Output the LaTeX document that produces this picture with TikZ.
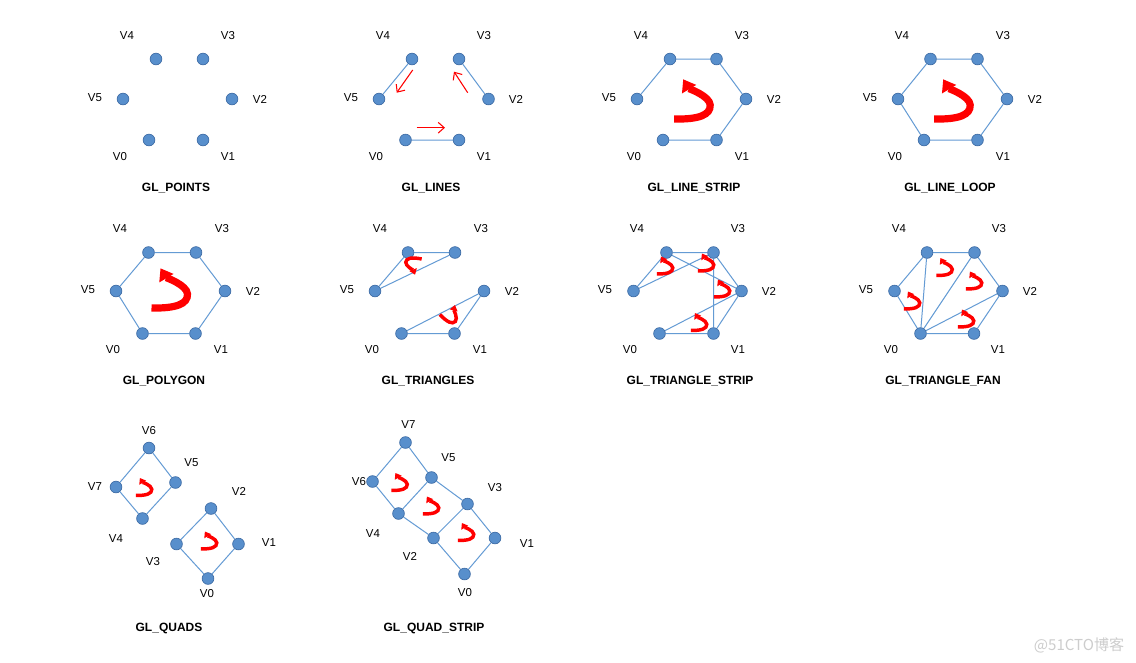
\documentclass[tikz,border=0pt]{standalone}
\usepackage{fontspec}
\setmainfont{Liberation Sans}
\newfontfamily\cjkfont{Noto Sans CJK SC}
\usetikzlibrary{arrows.meta,backgrounds}
\definecolor{dotfill}{RGB}{88,143,204}
\definecolor{dotdraw}{RGB}{62,108,165}
\definecolor{edgeblue}{RGB}{100,155,212}
\definecolor{markgray}{RGB}{205,205,205}
\tikzset{
  vtx/.style={circle, fill=dotfill, draw=dotdraw, line width=0.5pt, minimum size=8.8pt, inner sep=0pt},
  lbl/.style={font=\fontsize{8.6}{10}\selectfont, inner sep=0pt},
  ttl/.style={font=\bfseries\fontsize{9}{11}\selectfont, inner sep=0pt},
  edge/.style={draw=edgeblue, line width=0.75pt},
  thinred/.style={draw=red, line width=0.8pt, -{Straight Barb[length=4.5pt,width=8pt]}},
  pics/curl/.style={code={
    \draw[red, line width=#1, -{Triangle[length=0pt 1.6 0, width=0pt 2.2 0]}]
      (-19.5,18) .. controls (5,18.5) and (17,14) .. (16.5,4)
      .. controls (16,-5) and (-5,-12.5) .. (-10.5,-21.7);}},
}
\begin{document}
\begin{tikzpicture}[x=0.75pt,y=-0.75pt]
\begin{pgfonlayer}{background}
\fill[white] (0,0) rectangle (1136,662);
\end{pgfonlayer}
\useasboundingbox (0,0) rectangle (1136,662);

% ---------- Panel 1: GL_POINTS
\node[vtx] (a0) at (149,140) {};
\node[vtx] (a1) at (203,140) {};
\node[vtx] (a2) at (232,99) {};
\node[vtx] (a3) at (203,59) {};
\node[vtx] (a4) at (156,59) {};
\node[vtx] (a5) at (123,99) {};
\node[lbl] (la0) at (120,157) {V0};
\node[lbl] (la1) at (228,157) {V1};
\node[lbl] (la2) at (260,99) {V2};
\node[lbl] (la3) at (228,36) {V3};
\node[lbl] (la4) at (127,36) {V4};
\node[lbl] (la5) at (95,98) {V5};
\node[ttl] (ta) at (176,188) {GL\_POINTS};

% ---------- Panel 2: GL_LINES
\node[vtx] (b0) at (405.5,140) {};
\node[vtx] (b1) at (459,140) {};
\node[vtx] (b2) at (488.5,99) {};
\node[vtx] (b3) at (459,59) {};
\node[vtx] (b4) at (412,59) {};
\node[vtx] (b5) at (379,99) {};
\node[lbl] (lb0) at (376,157) {V0};
\node[lbl] (lb1) at (484,157) {V1};
\node[lbl] (lb2) at (516,99) {V2};
\node[lbl] (lb3) at (484,36) {V3};
\node[lbl] (lb4) at (383,36) {V4};
\node[lbl] (lb5) at (351,98) {V5};
\node[ttl] (tb) at (431,188) {GL\_LINES};
\coordinate (ra1) at (412.7,70);
\coordinate (ra2) at (396.7,92.7);
\coordinate (rb1) at (467.7,92.7);
\coordinate (rb2) at (454,71.7);
\coordinate (rc1) at (416.7,127.7);
\coordinate (rc2) at (445,127.7);
\draw[thinred] (ra1) -- (ra2);
\draw[thinred] (rb1) -- (rb2);
\draw[thinred] (rc1) -- (rc2);

% ---------- Panel 3: GL_LINE_STRIP
\node[vtx] (c0) at (663,140) {};
\node[vtx] (c1) at (716.5,140) {};
\node[vtx] (c2) at (746,99) {};
\node[vtx] (c3) at (716.5,59) {};
\node[vtx] (c4) at (670,59) {};
\node[vtx] (c5) at (637,99) {};
\node[lbl] (lc0) at (634,157) {V0};
\node[lbl] (lc1) at (742,157) {V1};
\node[lbl] (lc2) at (774,99) {V2};
\node[lbl] (lc3) at (742,36) {V3};
\node[lbl] (lc4) at (641,36) {V4};
\node[lbl] (lc5) at (609,98) {V5};
\node[ttl] (tc) at (694,188) {GL\_LINE\_STRIP};

% ---------- Panel 4: GL_LINE_LOOP
\node[vtx] (d0) at (924,140) {};
\node[vtx] (d1) at (977.5,140) {};
\node[vtx] (d2) at (1007,99) {};
\node[vtx] (d3) at (977.5,59) {};
\node[vtx] (d4) at (930.5,59) {};
\node[vtx] (d5) at (898,99) {};
\node[lbl] (ld0) at (895,157) {V0};
\node[lbl] (ld1) at (1003,157) {V1};
\node[lbl] (ld2) at (1035,99) {V2};
\node[lbl] (ld3) at (1003,36) {V3};
\node[lbl] (ld4) at (902,36) {V4};
\node[lbl] (ld5) at (870,98) {V5};
\node[ttl] (td) at (950,188) {GL\_LINE\_LOOP};

% ---------- Panel 5: GL_POLYGON
\node[vtx] (e0) at (142.5,333.5) {};
\node[vtx] (e1) at (195.5,333.5) {};
\node[vtx] (e2) at (225,291) {};
\node[vtx] (e3) at (196,252.5) {};
\node[vtx] (e4) at (148.5,252.5) {};
\node[vtx] (e5) at (116,291) {};
\node[lbl] (le0) at (113,350) {V0};
\node[lbl] (le1) at (221,350) {V1};
\node[lbl] (le2) at (253,291) {V2};
\node[lbl] (le3) at (222,229) {V3};
\node[lbl] (le4) at (120,229) {V4};
\node[lbl] (le5) at (88,290) {V5};
\node[ttl] (te) at (164,381) {GL\_POLYGON};

% ---------- Panel 6: GL_TRIANGLES
\node[vtx] (f0) at (401.5,333.5) {};
\node[vtx] (f1) at (454.5,333.5) {};
\node[vtx] (f2) at (484,291) {};
\node[vtx] (f3) at (455,252.5) {};
\node[vtx] (f4) at (408,252.5) {};
\node[vtx] (f5) at (375,291) {};
\node[lbl] (lf0) at (372,350) {V0};
\node[lbl] (lf1) at (480,350) {V1};
\node[lbl] (lf2) at (512,291) {V2};
\node[lbl] (lf3) at (481,229) {V3};
\node[lbl] (lf4) at (380,229) {V4};
\node[lbl] (lf5) at (347,290) {V5};
\node[ttl] (tf) at (428,381) {GL\_TRIANGLES};

% ---------- Panel 7: GL_TRIANGLE_STRIP
\node[vtx] (g0) at (659.5,333.5) {};
\node[vtx] (g1) at (713.5,333.5) {};
\node[vtx] (g2) at (741.5,291) {};
\node[vtx] (g3) at (713.5,252.5) {};
\node[vtx] (g4) at (666.5,252.5) {};
\node[vtx] (g5) at (633.5,291) {};
\node[lbl] (lg0) at (630,350) {V0};
\node[lbl] (lg1) at (738,350) {V1};
\node[lbl] (lg2) at (769,291) {V2};
\node[lbl] (lg3) at (738,229) {V3};
\node[lbl] (lg4) at (637,229) {V4};
\node[lbl] (lg5) at (605,290) {V5};
\node[ttl] (tg) at (690,381) {GL\_TRIANGLE\_STRIP};

% ---------- Panel 8: GL_TRIANGLE_FAN
\node[vtx] (h0) at (920.5,333.5) {};
\node[vtx] (h1) at (974,333.5) {};
\node[vtx] (h2) at (1002.5,291) {};
\node[vtx] (h3) at (974.5,252.5) {};
\node[vtx] (h4) at (927,252.5) {};
\node[vtx] (h5) at (894.5,291) {};
\node[lbl] (lh0) at (891,350) {V0};
\node[lbl] (lh1) at (998,350) {V1};
\node[lbl] (lh2) at (1030,291) {V2};
\node[lbl] (lh3) at (999,229) {V3};
\node[lbl] (lh4) at (899,229) {V4};
\node[lbl] (lh5) at (866,290) {V5};
\node[ttl] (th) at (943,381) {GL\_TRIANGLE\_FAN};

% ---------- Panel 9: GL_QUADS
\node[vtx] (i0) at (208,578.5) {};
\node[vtx] (i1) at (238.5,544) {};
\node[vtx] (i2) at (211,508.5) {};
\node[vtx] (i3) at (176.5,544) {};
\node[vtx] (i4) at (142.5,518.5) {};
\node[vtx] (i5) at (175.5,482.5) {};
\node[vtx] (i6) at (149,448) {};
\node[vtx] (i7) at (116,487) {};
\node[lbl] (li0) at (207,594) {V0};
\node[lbl] (li1) at (269,543) {V1};
\node[lbl] (li2) at (239,491) {V2};
\node[lbl] (li3) at (153,562) {V3};
\node[lbl] (li4) at (116,538.5) {V4};
\node[lbl] (li5) at (191.5,463) {V5};
\node[lbl] (li6) at (149,431) {V6};
\node[lbl] (li7) at (95,487) {V7};
\node[ttl] (ti) at (169,628) {GL\_QUADS};

% ---------- Panel 10: GL_QUAD_STRIP
\node[vtx] (j0) at (464.5,574) {};
\node[vtx] (j1) at (495,538) {};
\node[vtx] (j2) at (433.5,538) {};
\node[vtx] (j3) at (467.5,504) {};
\node[vtx] (j4) at (398.5,513.5) {};
\node[vtx] (j5) at (431.5,477.5) {};
\node[vtx] (j6) at (372.5,481.5) {};
\node[vtx] (j7) at (405.5,442.5) {};
\node[lbl] (lj0) at (465,593) {V0};
\node[lbl] (lj1) at (527,544) {V1};
\node[lbl] (lj2) at (410,556.5) {V2};
\node[lbl] (lj3) at (495,487.5) {V3};
\node[lbl] (lj4) at (373,533.5) {V4};
\node[lbl] (lj5) at (448.5,457.5) {V5};
\node[lbl] (lj6) at (359,481.5) {V6};
\node[lbl] (lj7) at (408.5,425) {V7};
\node[ttl] (tj) at (434,628) {GL\_QUAD\_STRIP};

% ---------- edges (behind the dots)
\begin{pgfonlayer}{background}
\draw[edge] (b4) -- (b5) (b3) -- (b2) (b0) -- (b1);
\draw[edge] (c0) -- (c1) -- (c2) -- (c3) -- (c4) -- (c5);
\draw[edge] (d0) -- (d1) -- (d2) -- (d3) -- (d4) -- (d5) -- (d0);
\draw[edge] (e0) -- (e1) -- (e2) -- (e3) -- (e4) -- (e5) -- (e0);
\draw[edge] (f3) -- (f4) -- (f5) -- (f3) (f0) -- (f1) -- (f2) -- (f0);
\draw[edge] (g0) -- (g1) (g1) -- (g2) (g2) -- (g0) (g1) -- (g3) (g2) -- (g3)
  (g2) -- (g4) (g3) -- (g4) (g3) -- (g5) (g4) -- (g5);
\draw[edge] (h0) -- (h1) (h0) -- (h2) (h0) -- (h3) (h0) -- (h4) (h0) -- (h5)
  (h1) -- (h2) (h2) -- (h3) (h3) -- (h4) (h4) -- (h5);
\draw[edge] (i7) -- (i6) -- (i5) -- (i4) -- (i7) (i3) -- (i2) -- (i1) -- (i0) -- (i3);
\draw[edge] (j0) -- (j1) (j1) -- (j3) (j3) -- (j2) (j2) -- (j0) (j2) -- (j4)
  (j3) -- (j5) (j4) -- (j5) (j4) -- (j6) (j5) -- (j7) (j6) -- (j7);
\end{pgfonlayer}

% ---------- winding arrows
\pic at (693.7,101) {curl=5.4pt};
\pic at (953.7,101) {curl=5.4pt};
\pic at (171,290) {curl=5.4pt};
\pic[rotate=170,scale=0.42] at (412.3,265) {curl=2.6pt};
\pic[rotate=-45,scale=0.44] at (451.5,315) {curl=2.6pt};
\pic[scale=0.44] at (665.5,266) {curl=2.6pt};
\pic[scale=0.44] at (706.5,263) {curl=2.6pt};
\pic[scale=0.44] at (722.5,289) {curl=2.6pt};
\pic[scale=0.44] at (699.5,322.5) {curl=2.6pt};
\pic[scale=0.44] at (912.5,301) {curl=2.6pt};
\pic[scale=0.44] at (945,267.5) {curl=2.6pt};
\pic[scale=0.44] at (974.5,281) {curl=2.6pt};
\pic[scale=0.44] at (966.5,319) {curl=2.6pt};
\pic[scale=0.44] at (144.5,487.5) {curl=2.6pt};
\pic[scale=0.44] at (209.5,541) {curl=2.6pt};
\pic[scale=0.44] at (400,482.5) {curl=2.6pt};
\pic[scale=0.44] at (431.5,506) {curl=2.6pt};
\pic[scale=0.44] at (466.5,532.5) {curl=2.6pt};

% ---------- watermark
\node[text=markgray, font=\cjkfont\fontsize{11.3}{13}\selectfont, inner sep=0pt] (wm) at (1079,645) {@51CTO博客};
\end{tikzpicture}
\end{document}
